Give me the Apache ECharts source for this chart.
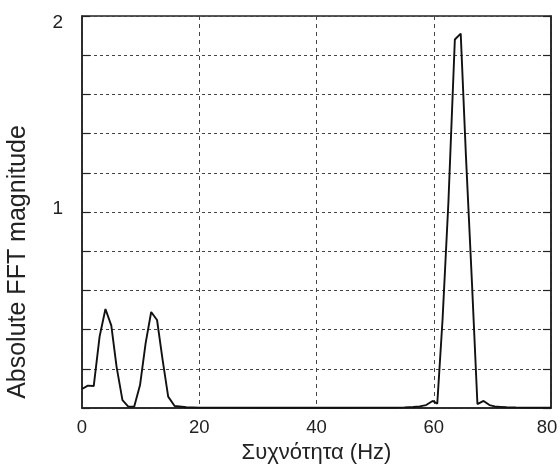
<!DOCTYPE html>
<html>
<head>
<meta charset="utf-8">
<script src="https://cdn.jsdelivr.net/npm/echarts@6/dist/echarts.min.js"></script>
<style>html,body{margin:0;padding:0;background:#fff;}#c{width:560px;height:464px;}</style>
</head>
<body>
<div id="c"></div>
<script>
const freqHz = [0, 1.0, 2.0, 3.0, 4.0, 5.0, 5.9, 6.9, 7.9, 8.9, 9.9, 10.85, 11.8, 12.8, 13.75, 14.7, 15.8, 17.8, 20, 25, 30, 35, 40, 45, 50, 53, 55, 56.5, 57.6, 58.7, 59.8, 60.6, 61.5, 62.5, 63.6, 64.6, 65.5, 66.5, 67.45, 68.5, 69.5, 70.4, 71.4, 72.4, 74, 76, 78, 80];
const magnitude = [0.097, 0.114, 0.112, 0.364, 0.505, 0.42, 0.21, 0.04, 0.007, 0.007, 0.117, 0.33, 0.49, 0.449, 0.245, 0.058, 0.01, 0.004, 0.002, 0.002, 0.001, 0.001, 0.001, 0.001, 0.002, 0.002, 0.003, 0.005, 0.008, 0.015, 0.036, 0.022, 0.45, 1.05, 1.88, 1.91, 1.28, 0.65, 0.02, 0.036, 0.015, 0.008, 0.006, 0.004, 0.003, 0.002, 0.002, 0.002];
const xTicks = [0, 20, 40, 60, 80];
const yLabelled = [1, 2];
const xTitle = 'Συχνότητα (Hz)';
const yTitle = 'Absolute FFT magnitude';

const font = "'Liberation Sans', Arial, Helvetica, sans-serif";
const chart = echarts.init(document.getElementById('c'), null, {renderer: 'canvas'});
const yAxisBase = {
  type: 'value', min: 0, max: 2, interval: 0.2,
  axisLine: {show: true, lineStyle: {color: '#222', width: 1.5}},
  axisTick: {show: true, inside: true, length: 8, lineStyle: {color: '#222', width: 1.2}}
};
const xMax = xTicks[xTicks.length - 1];
chart.setOption({
  animation: false,
  backgroundColor: '#fff',
  grid: {left: 82, right: 9, top: 16, bottom: 56, show: true, borderColor: '#222', borderWidth: 1.5,
    containLabel: false, outerBoundsMode: 'none'},
  xAxis: {
    type: 'value', min: xTicks[0], max: xMax, interval: 20,
    name: xTitle, nameLocation: 'middle', nameGap: 33,
    nameTextStyle: {fontFamily: font, fontSize: 22, color: '#222'},
    axisLine: {show: true, lineStyle: {color: '#222', width: 1.5}},
    axisTick: {show: false},
    axisLabel: {fontFamily: font, fontSize: 18.5, color: '#222', margin: 10,
      formatter: v => v === xMax ? '{r|' + v + '}' : String(v),
      rich: {r: {fontFamily: font, fontSize: 18.5, color: '#222', padding: [0, 8, 0, 0]}}
    },
    splitLine: {show: true, lineStyle: {color: '#444', type: [4, 4], width: 1}}
  },
  yAxis: [
    Object.assign({}, yAxisBase, {
      position: 'left',
      name: yTitle, nameLocation: 'middle', nameGap: 51, nameRotate: 90,
      nameTextStyle: {fontFamily: font, fontSize: 25, color: '#222', padding: [0, 100, 0, 0]},
      axisLabel: {fontFamily: font, fontSize: 19, color: '#222', margin: 19,
        formatter: v => Math.abs(v - yLabelled[1]) < 1e-6 ? '{lo|' + yLabelled[1] + '}'
          : (Math.abs(v - yLabelled[0]) < 1e-6 ? '{hi|' + yLabelled[0] + '}' : ''),
        rich: {
          lo: {fontFamily: font, fontSize: 19, color: '#222', padding: [14, 0, 0, 0]},
          hi: {fontFamily: font, fontSize: 19, color: '#222', padding: [0, 0, 6, 0]}
        }
      },
      splitLine: {show: true, lineStyle: {color: '#444', type: [3, 3], width: 1}}
    }),
    Object.assign({}, yAxisBase, {
      position: 'right',
      axisLabel: {show: false},
      splitLine: {show: false}
    })
  ],
  series: [{
    type: 'line',
    yAxisIndex: 0,
    data: freqHz.map((f, i) => [f, magnitude[i]]),
    showSymbol: false,
    lineStyle: {color: '#111', width: 1.9},
    clip: true
  }]
});
</script>
</body>
</html>
